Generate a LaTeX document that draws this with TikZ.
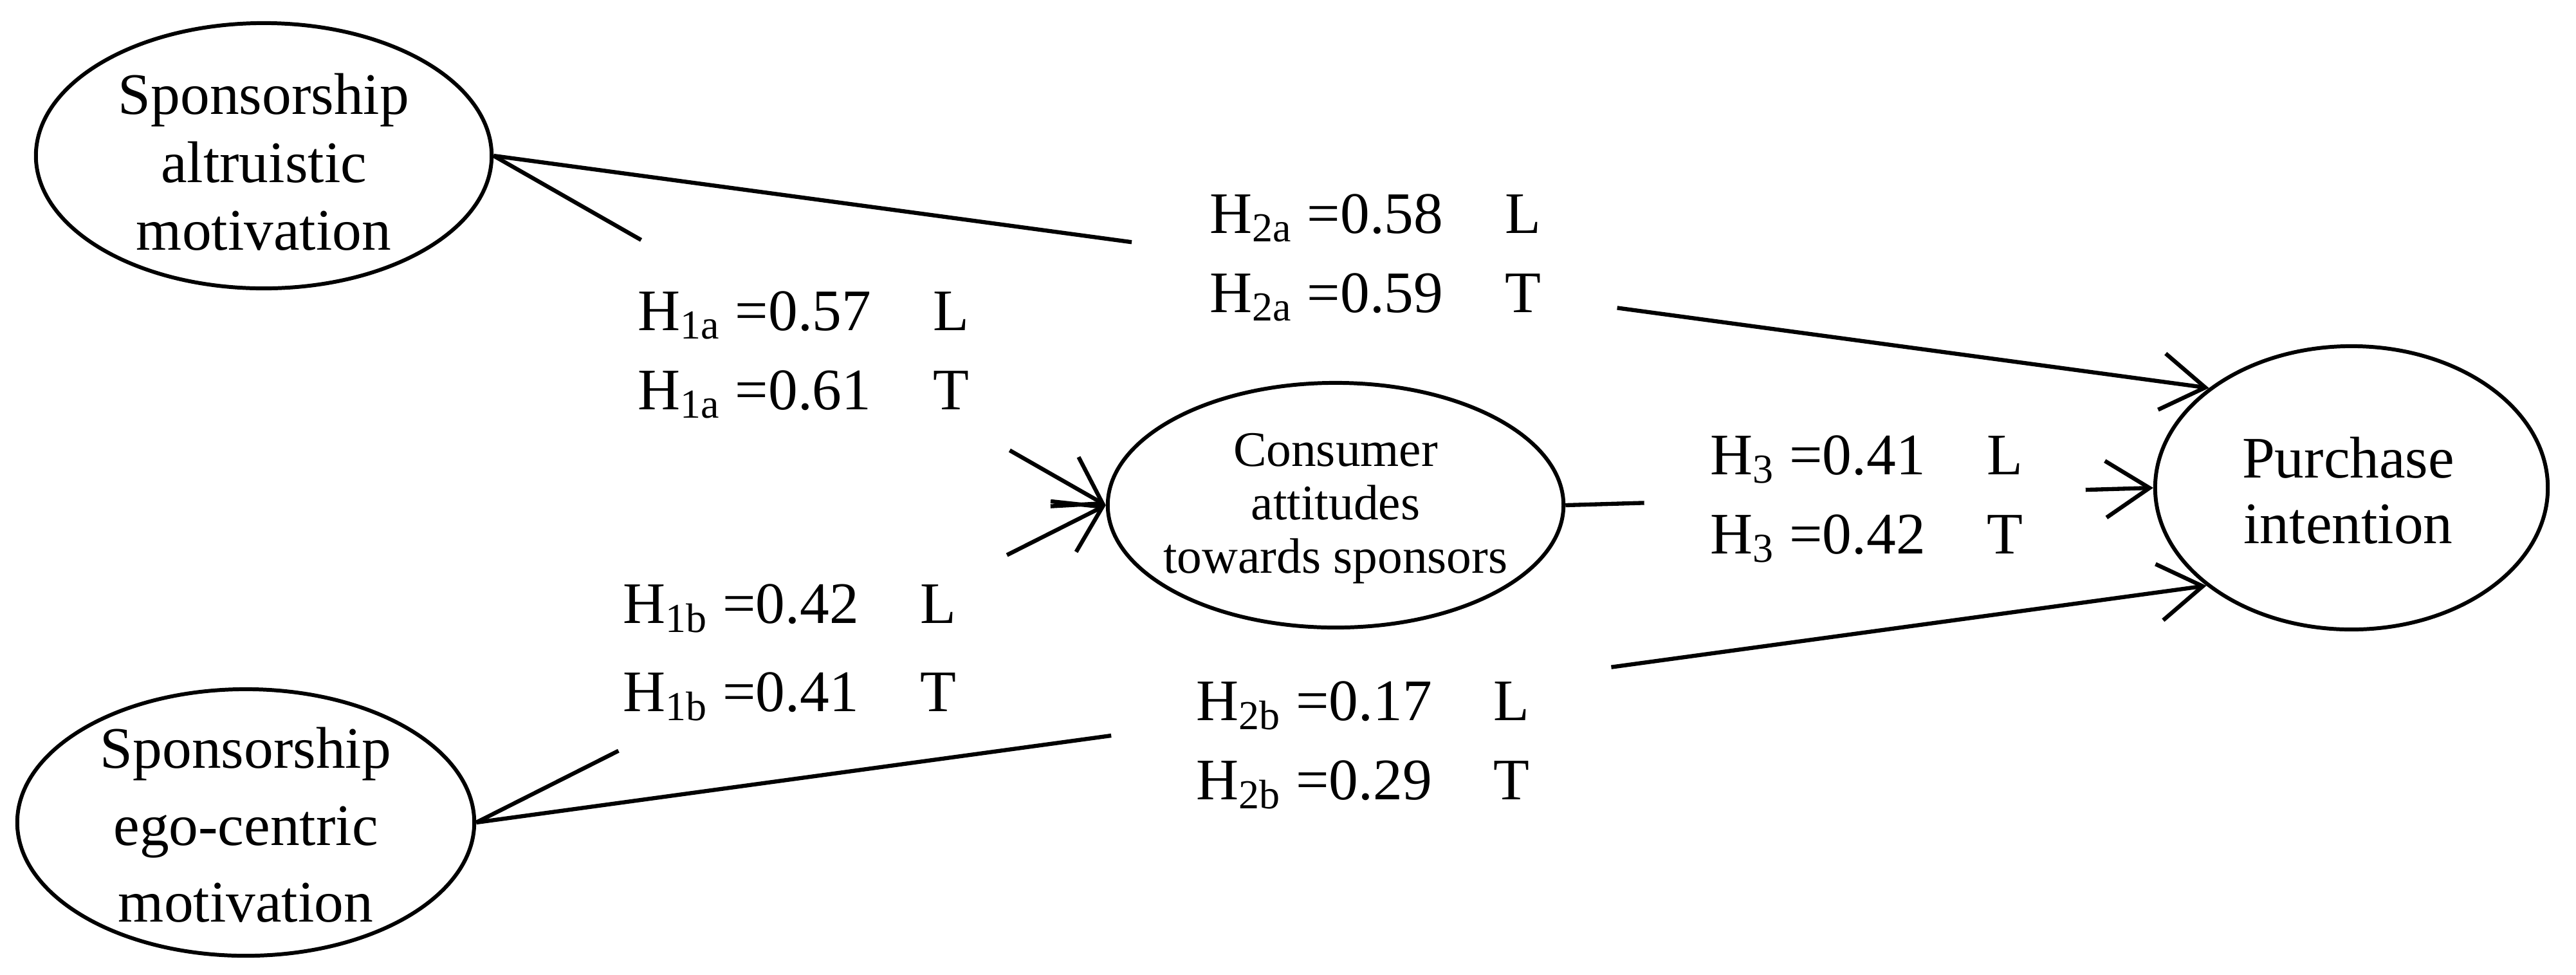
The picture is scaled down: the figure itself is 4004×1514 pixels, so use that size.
\documentclass[tikz,border=0pt]{standalone}
\usepackage{fontspec}
\setmainfont{Liberation Serif}
\usetikzlibrary{shapes.geometric,arrows.meta,calc}
\begin{document}
\begin{tikzpicture}[x=0.01cm,y=-0.01cm,
  ell/.style={ellipse,draw,line width=1.7pt,inner sep=0pt},
  etext/.style={align=center,inner sep=0pt},
  lab/.style={anchor=west,align=left,inner sep=0pt},
  conn/.style={line width=1.8pt},
  arr/.style={-{Straight Barb[length=0.68cm,width=0.88cm,line width=1.8pt]}}]
\useasboundingbox (0,0) rectangle (4004,1514);
% ellipses
\node[ell,minimum width=7.08cm,minimum height=4.12cm] (A) at (410,242) {};
\node[ell,minimum width=7.10cm,minimum height=4.14cm] (B) at (382,1278) {};
\node[ell,minimum width=7.08cm,minimum height=3.80cm] (C) at (2076,785) {};
\node[ell,minimum width=6.10cm,minimum height=4.40cm] (D) at (3655,758) {};
% ellipse texts
\node[etext,font=\fontsize{26pt}{30pt}\selectfont] (At) at (410,252) {Sponsorship\\altruistic\\motivation};
\node[etext,font=\fontsize{26pt}{34pt}\selectfont] (Bt) at (382,1282) {Sponsorship\\ego-centric\\motivation};
\node[etext,font=\fontsize{22pt}{23.5pt}\selectfont] (Ct) at (2076,790) {Consumer\\attitudes\\towards sponsors};
\node[etext,font=\fontsize{26pt}{29pt}\selectfont] (Dt) at (3650,762) {Purchase\\intention};
% labels
\node[lab,font=\fontsize{26pt}{35pt}\selectfont] (L1a) at (991,551) {H\textsubscript{1a} =0.57\hspace{1.05em}L\\H\textsubscript{1a} =0.61\hspace{1.05em}T};
\node[lab,font=\fontsize{26pt}{35pt}\selectfont] (L2a) at (1880,400) {H\textsubscript{2a} =0.58\hspace{1.05em}L\\H\textsubscript{2a} =0.59\hspace{1.05em}T};
\node[lab,font=\fontsize{26pt}{35pt}\selectfont] (L3) at (2658,775) {H\textsubscript{3} =0.41\hspace{1.05em}L\\H\textsubscript{3} =0.42\hspace{1.05em}T};
\node[lab,font=\fontsize{26pt}{39pt}\selectfont] (L1b) at (968,1014) {H\textsubscript{1b} =0.42\hspace{1.05em}L\\H\textsubscript{1b} =0.41\hspace{1.05em}T};
\node[lab,font=\fontsize{26pt}{35pt}\selectfont] (L2b) at (1859,1158) {H\textsubscript{2b} =0.17\hspace{1.05em}L\\H\textsubscript{2b} =0.29\hspace{1.05em}T};
% connectors
\draw[conn] (A.east) -- ($(A.east)!0.372!(D.145)$);
\draw[conn,arr] ($(A.east)!0.655!(D.145)$) -- (D.145);
\draw[conn] (A.east) -- ($(A.east)!0.241!(C.west)$);
\draw[conn,arr] ($(A.east)!0.843!(C.west)$) -- (C.west);
\draw[conn] (B.east) -- ($(B.east)!0.226!(C.west)$);
\draw[conn,arr] ($(B.east)!0.843!(C.west)$) -- (C.west);
\draw[conn] (B.east) -- ($(B.east)!0.367!(D.214)$);
\draw[conn,arr] ($(B.east)!0.656!(D.214)$) -- (D.214);
\draw[conn] (C.east) -- ($(C.east)!0.134!(D.west)$);
\draw[conn,arr] ($(C.east)!0.885!(D.west)$) -- (D.west);
\end{tikzpicture}
\end{document}
